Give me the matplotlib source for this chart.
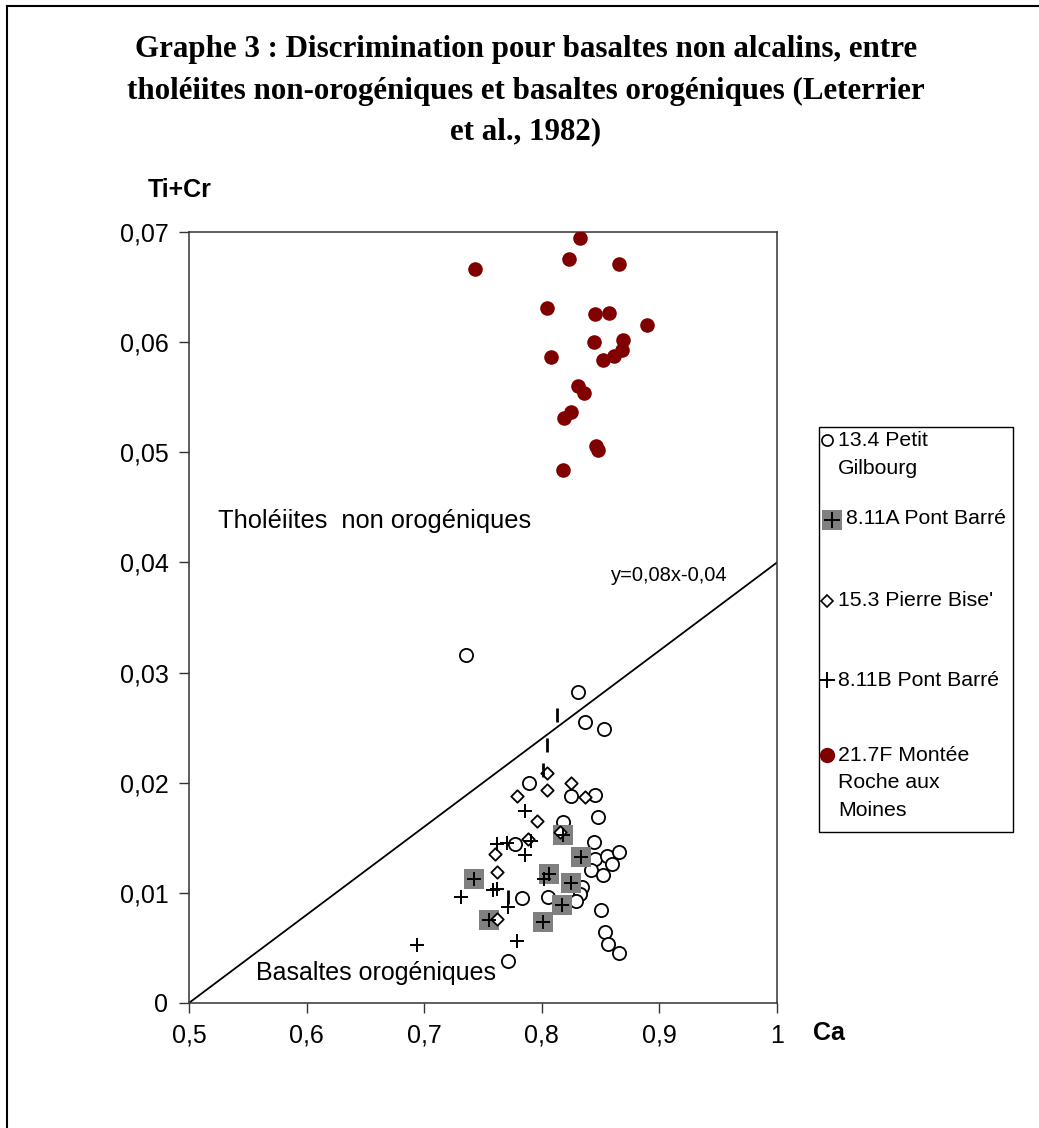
import matplotlib
matplotlib.use("Agg")
import matplotlib.pyplot as plt
from matplotlib.lines import Line2D
from matplotlib.patches import Rectangle
from matplotlib.ticker import FuncFormatter
import numpy as np

# 13.4 Petit Gilbourg
ca_134 = [0.735, 0.831, 0.837, 0.853, 0.789, 0.825, 0.845, 0.848, 0.818, 0.844,
          0.777, 0.845, 0.855, 0.866, 0.860, 0.842, 0.852, 0.834, 0.832, 0.805,
          0.783, 0.829, 0.850, 0.854, 0.856, 0.866, 0.771]
ticr_134 = [0.0316, 0.0282, 0.0255, 0.0249, 0.0200, 0.0188, 0.0189, 0.0169, 0.0164, 0.0146,
            0.0144, 0.0131, 0.0133, 0.0137, 0.0126, 0.0121, 0.0116, 0.0105, 0.0099, 0.0096,
            0.0095, 0.0092, 0.0084, 0.0064, 0.0053, 0.0045, 0.0038]

# 8.11A Pont Barré
ca_811a = [0.818, 0.833, 0.742, 0.806, 0.825, 0.817, 0.755, 0.801]
ticr_811a = [0.0152, 0.0132, 0.0112, 0.0117, 0.0109, 0.0089, 0.0075, 0.0073]

# 15.3 Pierre Bise'
ca_153 = [0.804, 0.825, 0.804, 0.779, 0.837, 0.796, 0.815, 0.788, 0.760, 0.762, 0.762]
ticr_153 = [0.0209, 0.0200, 0.0193, 0.0188, 0.0187, 0.0165, 0.0155, 0.0149, 0.0135, 0.0119, 0.0076]

# 8.11B Pont Barré
ca_811b = [0.786, 0.762, 0.770, 0.791, 0.786, 0.731, 0.758, 0.762, 0.771, 0.779, 0.694, 0.802]
ticr_811b = [0.0174, 0.0144, 0.0145, 0.0147, 0.0134, 0.0096, 0.0102, 0.0103, 0.0087, 0.0056, 0.0052, 0.0112]

# 21.7F Montée Roche aux Moines
ca_217 = [0.832, 0.823, 0.743, 0.866, 0.804, 0.845, 0.857, 0.889, 0.808, 0.844, 0.869,
          0.868, 0.861, 0.852, 0.831, 0.836, 0.825, 0.819, 0.846, 0.848, 0.818]
ticr_217 = [0.0695, 0.0676, 0.0667, 0.0671, 0.0631, 0.0626, 0.0627, 0.0616, 0.0587, 0.0600, 0.0602,
            0.0593, 0.0588, 0.0584, 0.0560, 0.0554, 0.0537, 0.0531, 0.0506, 0.0502, 0.0484]

# stray vertical marks (no legend entry)
ca_bars = [0.813, 0.804, 0.801, 0.771]
ticr_bars = [0.0261, 0.0234, 0.0211, 0.0096]

# discrimination line y = 0.08x - 0.04
line_slope = 0.08
line_icpt = -0.04

x_ticks = [0.5, 0.6, 0.7, 0.8, 0.9, 1.0]
y_ticks = [0, 0.01, 0.02, 0.03, 0.04, 0.05, 0.06, 0.07]

legend_labels = ["13.4 Petit\nGilbourg", "8.11A Pont Barré", "15.3 Pierre Bise'",
                 "8.11B Pont Barré", "21.7F Montée\nRoche aux\nMoines"]

title = ("Graphe 3 : Discrimination pour basaltes non alcalins, entre\n"
         "tholéiites non-orogéniques et basaltes orogéniques (Leterrier\n"
         "et al., 1982)")

W, H = 1039, 1128
plt.rcParams["font.family"] = ["Liberation Sans", "DejaVu Sans"]


def fx(px):
    return px / W


def fy(py):
    return 1 - py / H


fig = plt.figure(figsize=(W / 100, H / 100), dpi=100)
ax = fig.add_axes([fx(189.3), fy(1002.7), 587.7 / W, 770.4 / H])

xs = np.array([0.5, 1.0])
ax.plot(xs, line_slope * xs + line_icpt, color="black", lw=1.3, zorder=1)

circle_kw = dict(marker="o", facecolor="white", edgecolor="black", lw=1.3)
square_kw = dict(marker="s", color="#808080", lw=0)
cross_kw = dict(marker="+", color="black", lw=1.4)
diamond_kw = dict(marker="D", facecolor="white", edgecolor="black", lw=1.3)
red_kw = dict(marker="o", color="#800000", lw=0)

ax.scatter(ca_134, ticr_134, s=90, zorder=3, **circle_kw)
ax.scatter(ca_811a, ticr_811a, s=210, zorder=4, **square_kw)
ax.scatter(ca_811a, ticr_811a, s=110, zorder=5, **cross_kw)
ax.scatter(ca_153, ticr_153, s=40, zorder=4, **diamond_kw)
ax.scatter(ca_811b, ticr_811b, s=110, zorder=4, **cross_kw)
ax.scatter(ca_bars, ticr_bars, s=110, marker="|", color="black", lw=2, zorder=4)
ax.scatter(ca_217, ticr_217, s=110, zorder=3, **red_kw)

ax.set_xlim(0.5, 1.0)
ax.set_ylim(0, 0.07)
ax.set_xticks(x_ticks)
ax.set_yticks(y_ticks)
fmt = FuncFormatter(lambda v, p: f"{v:g}".replace(".", ","))
ax.xaxis.set_major_formatter(fmt)
ax.yaxis.set_major_formatter(fmt)
ax.tick_params(labelsize=18, length=7, width=1, direction="out", color="#333333", pad=8)
for sp in ax.spines.values():
    sp.set_color("#333333")
    sp.set_linewidth(1.1)

ax.text(0.5245, 0.0438, "Tholéiites  non orogéniques", fontsize=18.3, va="center", ha="left")
ax.text(0.8585, 0.0388, "y=0,08x-0,04", fontsize=14.5, va="center", ha="left")
ax.text(0.5567, 0.0027, "Basaltes orogéniques", fontsize=18, va="center", ha="left")

fig.text(fx(180), fy(190), "Ti+Cr", fontsize=18, weight="bold", ha="center", va="center")
fig.text(fx(829), fy(1033), "Ca", fontsize=18, weight="bold", ha="center", va="center")

fig.text(fx(526), fy(91), title, fontsize=22.3, weight="bold", family="Liberation Serif",
         ha="center", va="center", linespacing=1.55)

# outer frame (only left and top edges are in the picture)
fig.add_artist(Line2D([fx(7), fx(7)], [0, fy(6)], transform=fig.transFigure, color="black", lw=1.5))
fig.add_artist(Line2D([fx(7), 1], [fy(6), fy(6)], transform=fig.transFigure, color="black", lw=1.5))

# legend box, laid out like the spreadsheet one (uneven entry spacing)
fig.add_artist(Rectangle((fx(819), fy(832)), 194 / W, 405 / H, transform=fig.transFigure,
                         facecolor="white", edgecolor="black", lw=1.0))
leg_handle_y = [440, 520, 601, 680, 755]
leg_text_y = [454.5, 519, 601, 680, 783]
leg_text_x = [838, 846, 838, 838, 838]
handle_ms = [
    dict(marker="o", ms=8, mfc="white", mec="black", mew=1.2),
    dict(marker="s", ms=15, mfc="#808080", mec="#808080", mew=0),
    dict(marker="D", ms=6, mfc="white", mec="black", mew=1.2),
    dict(marker="+", ms=11, color="black", mew=1.4),
    dict(marker="o", ms=10, color="#800000"),
]
for i, lab in enumerate(legend_labels):
    hx = 832 if i == 1 else 827
    fig.add_artist(Line2D([fx(hx)], [fy(leg_handle_y[i])], transform=fig.transFigure, ls="", **handle_ms[i]))
    if i == 1:
        fig.add_artist(Line2D([fx(hx)], [fy(leg_handle_y[i])], transform=fig.transFigure, ls="",
                              marker="+", ms=11, color="black", mew=1.4))
    fig.text(fx(leg_text_x[i]), fy(leg_text_y[i]), lab, fontsize=15.3, ha="left", va="center",
             linespacing=1.55)

fig.savefig("out.png", dpi=100)
